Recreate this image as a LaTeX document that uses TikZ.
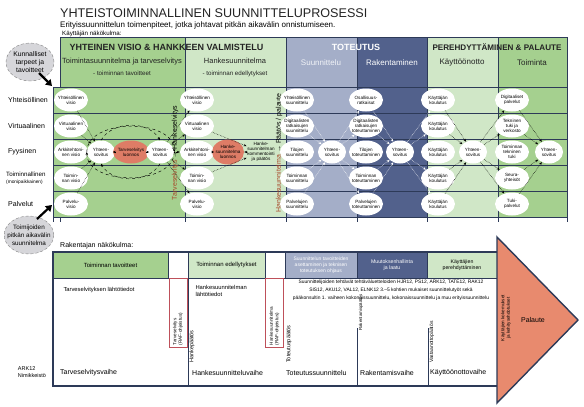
\documentclass[tikz,border=0pt]{standalone}
\usepackage{fontspec}
\setmainfont{Liberation Sans}
\usetikzlibrary{shapes.geometric,arrows.meta}
\definecolor{vihrea}{RGB}{165,208,143}
\definecolor{vaalvihrea}{RGB}{208,231,199}
\definecolor{harmaa}{RGB}{164,174,200}
\definecolor{sini}{RGB}{82,97,140}
\definecolor{viiva}{RGB}{45,58,88}
\definecolor{punainen}{RGB}{222,124,102}
\definecolor{nuoli}{RGB}{232,138,110}
\definecolor{ruskea}{RGB}{168,72,42}
\definecolor{punareuna}{RGB}{190,80,90}
\definecolor{pilviharmaa}{RGB}{214,214,218}
\definecolor{tumma}{RGB}{35,35,35}
\newcommand{\koko}[2]{\fontsize{#1}{#2}\selectfont}

\tikzset{
  visio/.style={ellipse, fill=white, inner xsep=-2pt, inner ysep=0pt, minimum width=34pt, minimum height=23pt, align=center, font=\koko{4.6}{5.2}},
  yh/.style={visio, minimum width=28pt},
  punavisio/.style={visio, fill=punainen, minimum width=36pt},
  vuo/.style={densely dotted, line width=0.5pt, -{Stealth[length=3pt,width=2.4pt]}},
  valkovuo/.style={vuo, white},
  kierto/.style={dashed, line width=0.45pt, -{Stealth[length=3pt,width=2.4pt]}},
  rivinimi/.style={anchor=west, inner sep=0pt, align=left, font=\koko{7}{8}},
  riviviiva/.style={draw=viiva, line width=0.9pt},
  pilvi/.style={ellipse, fill=pilviharmaa, draw=gray, densely dashed, inner xsep=0pt, inner ysep=0pt, minimum width=48pt, minimum height=38pt, align=center, font=\koko{6.8}{8.2}},
  paksunuoli/.style={line width=2.2pt, -{Triangle[length=6pt,width=7.5pt]}},
  solu/.style={draw=viiva, line width=0.4pt, inner sep=1pt, minimum height=26pt, align=center, font=\koko{6}{7}},
  pysty/.style={rotate=90, inner sep=0pt, font=\koko{6}{7}},
  punalaatikko/.style={rotate=90, draw=punareuna, fill=white, line width=0.5pt, text width=65pt, minimum height=18pt, inner xsep=2pt, inner ysep=1pt, align=left, font=\koko{4.6}{5.4}},
  vaihe/.style={anchor=west, inner sep=0pt, font=\koko{7}{8}},
}

\begin{document}
\begin{tikzpicture}[x=1pt,y=-1pt]
		\useasboundingbox (0,0) rectangle (584,407);
		%%%%% OTSIKKO %%%%%
		\node[anchor=base west, inner sep=0pt, text=tumma] (otsikko) at (60,17) {\koko{12.6}{14}YHTEISTOIMINNALLINEN SUUNNITTELUPROSESSI};
		\node[anchor=base west, inner sep=0pt] (alaotsikko) at (60,27) {\koko{8}{9}Erityissuunnittelun toimenpiteet, jotka johtavat pitkän aikavälin onnistumiseen.};
		\node[anchor=base west, inner sep=0pt] (kayttaja) at (62,35) {\koko{6.2}{7}Käyttäjän näkökulma:};
		
		%%%%% SARAKKEET %%%%%
		\fill[vihrea] (60,37) rectangle (185,87);
		\fill[vihrea] (53,87) rectangle (185,217);
		\fill[vaalvihrea] (185,37) rectangle (286,217);
		\fill[harmaa] (286,37) rectangle (357,217);
		\fill[sini] (357,37) rectangle (427,217);
		\fill[vaalvihrea] (427,37) rectangle (498,217);
		\fill[vihrea] (498,37) rectangle (567,217);
		
		\draw[viiva, line width=0.6pt] (60,37) -- (567,37);
		\draw[viiva, line width=0.6pt] (60,37) -- (60,87);
		\draw[viiva, line width=0.6pt] (53,87) -- (53,222);
		\draw[viiva, line width=0.6pt] (60,217) -- (60,222);
		\foreach \x in {185,286,357,427,498,567}
			\draw[viiva, line width=0.5pt] (\x,37) -- (\x,222);
		\foreach \y in {87,113,139,165,191,217}
			\draw[riviviiva] (53,\y) -- (567,\y);
		
		\node[anchor=west, text=tumma, font=\koko{9}{10}\bfseries] (vaihe1) at (66,47) {YHTEINEN VISIO \& HANKKEEN VALMISTELU};
		\node[text=white, font=\koko{9}{10}\bfseries] (vaihe2) at (356,47) {TOTEUTUS};
		\node[text=tumma, font=\koko{8.1}{10}\bfseries] (vaihe3) at (497,47) {PEREHDYTTÄMINEN \& PALAUTE};
		
		\node[align=center, text=tumma] (ala1) at (122,67) {\koko{7.5}{9}Toimintasuunnitelma ja tarveselvitys\\\koko{6.2}{8}- toiminnan tavoitteet};
		\node[align=center, text=tumma] (ala2) at (235,67) {\koko{7.5}{9}Hankesuunnitelma\\\koko{6.2}{8}- toiminnan edellytykset};
		\node[text=white!85!harmaa, font=\koko{8}{9}] (ala3) at (321,63) {Suunnittelu};
		\node[text=white, font=\koko{8}{9}] (ala4) at (392,63) {Rakentaminen};
		\node[text=tumma, font=\koko{8}{9}] (ala5) at (462,63) {Käyttöönotto};
		\node[text=tumma, font=\koko{8}{9}] (ala6) at (532,63) {Toiminta};
		
		%%%%% RIVIEN NIMET %%%%%
		\node[rivinimi] (r1) at (8,100) {Yhteisöllinen};
		\node[rivinimi] (r2) at (8,126) {Virtuaalinen};
		\node[rivinimi] (r3) at (8,152) {Fyysinen};
		\node[rivinimi, font=\koko{6.2}{7}] (r4) at (6,178) {Toiminnallinen\\{\koko{4.8}{5.5}(monipaikkainen)}};
		\node[rivinimi] (r5) at (8,204) {Palvelut};
		
		\node[pilvi] (kunta) at (30,62) {Kunnalliset\\tarpeet ja\\tavoitteet};
		\node[pilvi, inner xsep=-4pt, font=\koko{6.3}{7.8}] (toimijat) at (29,235) {Toimijoiden\\pitkän aikavälin\\suunnitelma};
		\coordinate (kunta1) at (39,73);
		\coordinate (kulma1) at (52,86);
		\coordinate (toimija1) at (37,219);
		\coordinate (kulma2) at (52,205);
		\draw[paksunuoli] (kunta1) -- (kulma1);
		\draw[paksunuoli] (toimija1) -- (kulma2);
		
		%%%%% TARVESELVITYS %%%%%
		\node[visio] (k11) at (71,100) {Yhteisöllinen\\visio};
		\node[visio] (k12) at (71,126) {Virtuaalinen\\visio};
		\node[visio] (k13) at (71,152) {Arkkitehtoni-\\nen visio};
		\node[visio] (k14) at (71,178) {Toimin-\\nan visio};
		\node[visio] (k15) at (71,204) {Palvelu-\\visio};
		\node[yh] (yh1) at (101,152) {Yhteen-\\sovitus};
		\node[punavisio] (tarve) at (131,152) {Tarveselvitys\\luonnos};
		\node[yh] (yh2) at (160,152) {Yhteen-\\sovitus};
		
		\node[pysty, font=\koko{7}{8}] (tarvehanke) at (175,153) {\textcolor{ruskea}{Tarveselvitys} → Hankeselvitys};
		
		%%%%% HANKESUUNNITELMA %%%%%
		\node[visio] (k21) at (197,100) {Yhteisöllinen\\visio};
		\node[visio] (k22) at (197,126) {Virtuaalinen\\visio};
		\node[visio] (k23) at (197,152) {Arkkitehtoni-\\nen visio};
		\node[visio] (k24) at (197,178) {Toimin-\\nan visio};
		\node[visio] (k25) at (197,204) {Palvelu-\\visio};
		\node[punavisio, minimum width=32pt, minimum height=25pt] (hanke) at (228,152) {Hanke-\\suunnitelma\\luonnos};
		\node[align=center, inner sep=0.5pt, font=\koko{4.6}{5.2}] (kommentit) at (261,152) {Hanke-\\suunnitelman\\kommentointi\\ja päätös};
		
		\node[pysty, font=\koko{7}{8}] (hankepaatos) at (279,153) {\textcolor{ruskea}{Hankesuunnitelma} → Päätös / palaute};
		
		%%%%% TOTEUTUS %%%%%
		\node[visio] (s1) at (297,100) {Yhteisöllinen\\suunnittelu};
		\node[visio] (s2) at (297,126) {Digitaalisten\\ratkaisujen\\suunnittelu};
		\node[visio] (s3) at (297,152) {Tilojen\\suunnittelu};
		\node[visio] (s4) at (297,178) {Toiminnan\\suunnittelu};
		\node[visio] (s5) at (297,204) {Palvelujen\\suunnittelu};
		\node[yh] (yh3) at (332,152) {Yhteen-\\sovitus};
		\node[visio] (t1) at (366,100) {Osallisuus-\\ratkaisut};
		\node[visio] (t2) at (366,126) {Digitaalisten\\ratkaisujen\\toteuttaminen};
		\node[visio] (t3) at (366,152) {Tilojen\\toteuttaminen};
		\node[visio] (t4) at (366,178) {Toiminnan\\toteuttaminen};
		\node[visio] (t5) at (366,204) {Palvelujen\\toteuttaminen};
		\node[yh] (yh4) at (400,152) {Yhteen-\\sovitus};
		
		%%%%% PEREHDYTTAMINEN %%%%%
		\node[visio] (o1) at (438,100) {Käyttäjän\\koulutus};
		\node[visio] (o2) at (438,126) {Käyttäjän\\koulutus};
		\node[visio] (o3) at (438,152) {Käyttäjän\\koulutus};
		\node[visio] (o4) at (438,178) {Käyttäjän\\koulutus};
		\node[visio] (o5) at (438,204) {Käyttäjän\\koulutus};
		\node[yh] (yh5) at (473,152) {Yhteen-\\sovitus};
		\node[visio] (p1) at (512,100) {Digitaaliset\\palvelut};
		\node[visio] (p2) at (512,126) {Tekninen\\tuki ja\\verkosto};
		\node[visio] (p3) at (512,152) {Toiminnan\\tekninen\\tuki};
		\node[visio] (p4) at (512,178) {Seura-\\yhteisöt};
		\node[visio] (p5) at (512,204) {Tuki-\\palvelut};
		\node[yh] (yh6) at (549,152) {Yhteen-\\sovitus};
		
		%%%%% NUOLET %%%%%
		\foreach \i in {1,2,4,5}
			\draw[vuo] (k1\i) -- (yh1);
		\draw[vuo] (yh1) -- (tarve);
		\draw[vuo] (yh2) -- (tarve);
		\draw[kierto] (yh1.north) to[out=60,in=120] (yh2.north);
		\draw[kierto] (yh2.south) to[out=-120,in=-60] (yh1.south);
		\draw[kierto] (yh1.west) to[out=90,in=90] (yh2.east);
		\draw[kierto] (yh2.east) to[out=-90,in=-90] (yh1.west);
		\foreach \i in {1,...,5}
			\draw[vuo] (yh2) -- (k2\i);
		\draw[vuo] (k22) -- (kommentit);
		\draw[vuo] (k24) -- (kommentit);
		\draw[vuo] (kommentit) -- (hanke);
		\draw[vuo] (hanke) -- (k23);
		\foreach \i in {1,2,4,5} {
			\draw[valkovuo] (s\i) -- (yh3);
			\draw[valkovuo] (yh3) -- (t\i);
			\draw[valkovuo] (t\i) -- (yh4);
			\draw[valkovuo] (yh4) -- (o\i);
			\draw[vuo] (o\i) -- (yh5);
			\draw[vuo] (yh5) -- (p\i);
			\draw[vuo] (p\i) -- (yh6);
		}
		
		%%%%% RAKENTAJAN NAKOKULMA %%%%%
		\node[anchor=base west, inner sep=0pt, font=\koko{7}{8}] (rakentaja) at (60,247) {Rakentajan näkökulma:};
		\node[solu, fill=vihrea, minimum width=115pt] (h1) at (110.5,265) {Toiminnan tavoitteet};
		\node[solu, minimum width=20pt] (h2) at (178,265) {};
		\node[solu, fill=vaalvihrea, minimum width=77pt] (h3) at (226.5,265) {Toiminnan edellytykset};
		\node[solu, minimum width=20pt] (h4) at (275,265) {};
		\node[solu, fill=harmaa, text=white, minimum width=72pt, font=\koko{5}{6}] (h5) at (321,265) {Suunnittelun tavoitteiden\\asettaminen ja teknisen\\toteutuksen ohjaus};
		\node[solu, fill=sini, text=white, minimum width=70pt, font=\koko{5.2}{6.2}] (h6) at (392,265) {Muutoksenhallinta\\ja laatu};
		\node[solu, fill=vaalvihrea, minimum width=70pt, font=\koko{5.2}{6.2}] (h7) at (462,265) {Käyttäjien\\perehdyttäminen};
		
		\node[anchor=west, font=\koko{5.8}{7}] (tarvetiedot) at (60,290) {Tarveselvityksen lähtötiedot};
		\node[anchor=west, align=left, font=\koko{5.8}{7}] (hanketiedot) at (192,291) {Hankesuunnitelman\\lähtötiedot};
		\node[align=center, font=\koko{4.9}{8}] (tehtavat) at (391,290) {Suunnittelijoiden tehtävät tehtäväluetteloiden HJR12, PS12, ARK12, TATE12, RAK12\\SIS12, AKU12, VAL12, ELNK12 3.–5 kohtien mukaiset suunnittelutyöt sekä\\pääkonsultin 1. vaiheen kokonaissuunnittelu, kokonaissuunnittelu ja muu erityissuunnittelu};
		
		\node[punalaatikko] (tarvelaatikko) at (178,312.5) {Tarveselvitys\\(RAF-ohjeistus)};
		\node[punalaatikko] (hankelaatikko) at (274.5,312.5) {Hankesuunnitelma\\(RAF-ohjeistus)};
		
		\draw[viiva, line width=0.6pt] (188,278) -- (188,386);
		\draw[viiva, line width=0.6pt] (357,328) -- (357,386);
		\draw[viiva, line width=0.6pt] (428,328) -- (428,386);
		\node[pysty, anchor=west, font=\koko{5.5}{6}] (hpaatos) at (192,363) {Hankepäätös};
		\node[pysty, anchor=west, font=\koko{5.5}{6}] (tpaatos) at (289,363) {Toteutuspäätös};
		\node[pysty, anchor=west, font=\koko{4.4}{5}] (rpaatos) at (361,331) {Rakentamispäätös};
		\node[pysty, anchor=west, font=\koko{5}{6}] (vpaatos) at (432,363) {Vastaanottopäätös};
		
		\node[vaihe] (v1) at (60,373) {Tarveselvitysvaihe};
		\node[vaihe] (v2) at (192,373) {Hankesuunnitteluvaihe};
		\node[vaihe] (v3) at (286,373) {Toteutussuunnittelu};
		\node[vaihe] (v4) at (360,373) {Rakentamisvaihe};
		\node[vaihe] (v5) at (430,373) {Käyttöönottovaihe};
		\node[align=left, font=\koko{5.5}{6.5}] (ark) at (32,372) {ARK12\\Nimikkeistö};
		
		\draw[viiva, line width=1.6pt] (497,252) -- (53,252) -- (53,386) -- (497,386);
		
		\filldraw[fill=nuoli, draw=viiva, line width=1.4pt] (497,237) -- (578,320) -- (497,403) -- cycle;
		\node[font=\koko{7}{8}] (palaute) at (533,320) {Palaute};
		\node[pysty, align=center, font=\koko{4.6}{5.4}] (kokemukset) at (506,318) {Käyttäjien kokemukset\\ja kehitysehdotukset};
		%%%%% END %%%%%
	\end{tikzpicture}
\end{document}
